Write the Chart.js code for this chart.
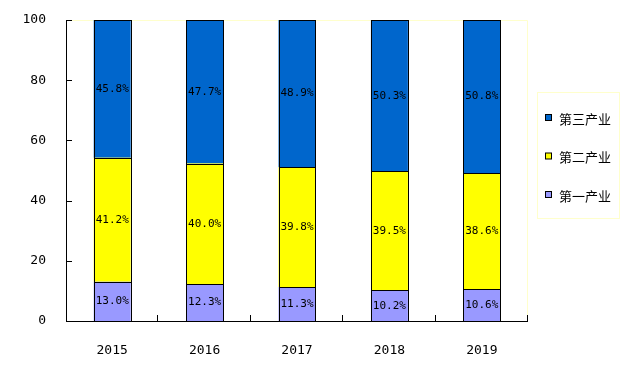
<!DOCTYPE html>
<html>
<head>
    <meta charset="utf-8">
    <title>三次产业结构</title>
    <script src="https://cdn.jsdelivr.net/npm/chart.js"></script>
    <style>
        html, body { margin: 0; padding: 0; background: #fff; }
        #wrap { width: 632px; height: 368px; }
    </style>
</head>
<body>
    <div id="wrap"><canvas id="chart" width="632" height="368"></canvas></div>

    <script>
        // dados
        var anos = ['2015', '2016', '2017', '2018', '2019'];
        var primario = [13.0, 12.3, 11.3, 10.2, 10.6];
        var secundario = [41.2, 40.0, 39.8, 39.5, 38.6];
        var terciario = [45.8, 47.7, 48.9, 50.3, 50.8];
        var nomes = ['第一产业', '第二产业', '第三产业'];
        var cores = ['#9999FF', '#FFFF00', '#0066CC'];
        var yTicks = [0, 20, 40, 60, 80, 100];

        var fonteNum = '"DejaVu Sans Mono", "Liberation Mono", monospace';
        var fonteCJK = '"Noto Sans CJK SC", sans-serif';

        // moldura clara + marcas de escala para dentro
        var moldura = {
            id: 'moldura',
            beforeDatasetsDraw: function(chart) {
                var a = chart.chartArea, ctx = chart.ctx;
                ctx.save();
                ctx.strokeStyle = '#FFFFCC';
                ctx.lineWidth = 1;
                ctx.beginPath();
                ctx.moveTo(a.left, a.top + 0.5);
                ctx.lineTo(a.right - 0.5, a.top + 0.5);
                ctx.lineTo(a.right - 0.5, a.bottom);
                ctx.stroke();
                ctx.restore();
            },
            afterDatasetsDraw: function(chart) {
                var a = chart.chartArea, ctx = chart.ctx;
                var x = chart.scales.x, y = chart.scales.y;
                ctx.save();
                ctx.strokeStyle = '#000';
                ctx.lineWidth = 1;

                // contorno das barras
                chart.data.datasets.forEach(function(ds, di) {
                    chart.getDatasetMeta(di).data.forEach(function(bar) {
                        var l = Math.round(bar.x - bar.width / 2) + 0.5;
                        var r = Math.round(bar.x + bar.width / 2) + 0.5;
                        var t = Math.round(Math.min(bar.y, bar.base)) + 0.5;
                        var b = Math.round(Math.max(bar.y, bar.base)) + 0.5;
                        ctx.strokeRect(l, t, r - l, b - t);
                    });
                });

                ctx.beginPath();
                // eixos
                ctx.moveTo(a.left + 0.5, a.top);
                ctx.lineTo(a.left + 0.5, a.bottom + 0.5);
                ctx.lineTo(a.right, a.bottom + 0.5);
                // marcas y
                yTicks.forEach(function(v) {
                    var py = Math.round(y.getPixelForValue(v)) + 0.5;
                    ctx.moveTo(a.left, py);
                    ctx.lineTo(a.left + 6, py);
                });
                // marcas x nas divisões
                var passo = (a.right - a.left) / anos.length;
                for (var i = 1; i <= anos.length; i++) {
                    var px = Math.round(x.getPixelForValue(i - 1) + passo / 2) - 0.5;
                    ctx.moveTo(px, a.bottom);
                    ctx.lineTo(px, a.bottom - 6);
                }
                ctx.stroke();

                // rótulos das barras
                ctx.fillStyle = '#000';
                ctx.font = '11px ' + fonteNum;
                ctx.textAlign = 'center';
                ctx.textBaseline = 'middle';
                chart.data.datasets.forEach(function(ds, di) {
                    chart.getDatasetMeta(di).data.forEach(function(bar, i) {
                        var meio = (bar.y + bar.base) / 2;
                        ctx.fillText(ds.data[i].toFixed(1) + '%', bar.x, meio);
                    });
                });
                ctx.restore();
            },
            afterDraw: function(chart) {
                // legenda à direita
                var ctx = chart.ctx;
                var bx = 537, by = 92, bw = 82, bh = 126;
                ctx.save();
                ctx.strokeStyle = '#FFFFCC';
                ctx.strokeRect(bx + 0.5, by + 0.5, bw, bh);
                ctx.font = '13px ' + fonteCJK;
                ctx.textBaseline = 'middle';
                ctx.textAlign = 'left';
                var ds = chart.data.datasets.slice().reverse();
                ds.forEach(function(d, i) {
                    var cy = 119 + i * 38.5;
                    ctx.fillStyle = d.backgroundColor;
                    ctx.fillRect(bx + 8.5, cy - 4.5, 6, 6);
                    ctx.strokeStyle = '#000';
                    ctx.strokeRect(bx + 8.5, cy - 4.5, 6, 6);
                    ctx.fillStyle = '#000';
                    ctx.fillText(d.label, bx + 22, cy);
                });
                ctx.restore();
            }
        };

        var series = [primario, secundario, terciario];
        var datasets = series.map(function(s, i) {
            return {
                label: nomes[i],
                data: s,
                backgroundColor: cores[i],
                borderWidth: 0,
                inflateAmount: 0,
                barPercentage: 0.4,
                categoryPercentage: 1.0
            };
        });

        var ctx = document.getElementById('chart').getContext('2d');
        var chart = new Chart(ctx, {
            type: 'bar',
            data: { labels: anos, datasets: datasets },
            options: {
                responsive: false,
                animation: false,
                layout: { padding: { top: 20, right: 104, left: 0, bottom: 0 } },
                plugins: {
                    legend: { display: false },
                    tooltip: { enabled: false }
                },
                scales: {
                    x: {
                        stacked: true,
                        grid: { display: false },
                        border: { display: false },
                        ticks: {
                            color: '#000',
                            padding: 14,
                            font: { family: fonteNum, size: 13 }
                        },
                        afterFit: function(s) { s.height = 47; }
                    },
                    y: {
                        stacked: true,
                        min: 0,
                        max: 100,
                        grid: { display: false },
                        border: { display: false },
                        afterBuildTicks: function(s) {
                            s.ticks = yTicks.map(function(v) { return { value: v }; });
                        },
                        ticks: {
                            color: '#000',
                            padding: 12,
                            font: { family: fonteNum, size: 13 }
                        },
                        afterFit: function(s) { s.width = 66; }
                    }
                }
            },
            plugins: [moldura]
        });
    </script>
</body>
</html>
